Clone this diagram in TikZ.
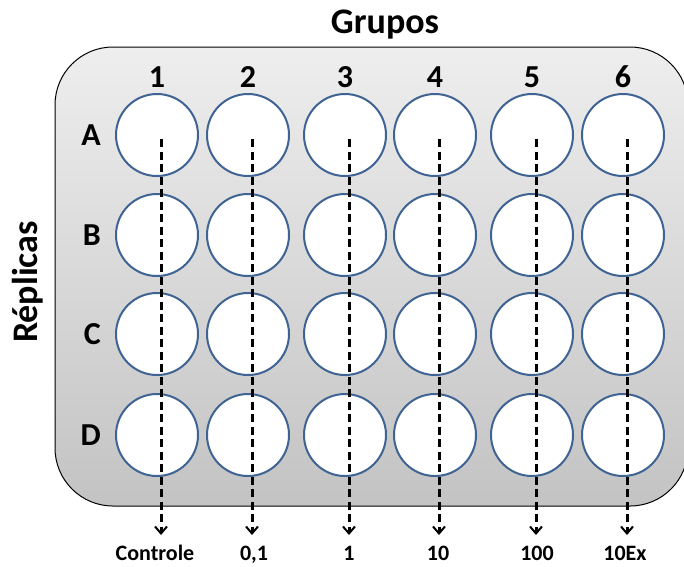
\documentclass[tikz,border=0pt]{standalone}
\usepackage{fontspec}
\setmainfont{Carlito}
\usetikzlibrary{arrows.meta,positioning}
\definecolor{wellBlue}{HTML}{3F6393}
\definecolor{plateTop}{HTML}{EEEEEE}
\definecolor{plateBottom}{HTML}{C3C3C3}
\tikzstyle{plate} = [draw=black, line width=1pt, rounded corners=58pt,
    top color=plateTop, bottom color=plateBottom]
\tikzstyle{well} = [circle, draw=wellBlue, line width=2pt, fill=white,
    minimum size=82pt, inner sep=0pt]
\tikzstyle{heading} = [font=\fontsize{36}{40}\selectfont\bfseries,
    inner sep=0pt, anchor=base]
\tikzstyle{marker} = [font=\fontsize{32}{36}\selectfont\bfseries, inner sep=0pt]
\tikzstyle{dose} = [font=\fontsize{22}{26}\selectfont\bfseries,
    inner sep=0pt, anchor=base]
\tikzstyle{flow} = [draw, line width=3pt, dash pattern=on 8pt off 4.5pt,
    shorten <=4pt, -{Straight Barb[length=7pt,width=12pt,line width=2pt]}]

\begin{document}
\begin{tikzpicture}[x=1pt, y=-1pt]
    \useasboundingbox (0,0) rectangle (684,566);
    \path[plate] (55,47) rectangle (688,506);

    \node[heading] (grupos) at (385,33) {Grupos};
    \node[heading, rotate=90] (replicas) at (37,282) {Réplicas};

    \node[well] (wellA1) at (157,135) {};
    \node[well] (wellA2) at (248,135) {};
    \node[well] (wellA3) at (345,135) {};
    \node[well] (wellA4) at (435,135) {};
    \node[well] (wellA5) at (532,135) {};
    \node[well] (wellA6) at (623,135) {};

    \node[well] (wellB1) at (157,235) {};
    \node[well] (wellB2) at (248,235) {};
    \node[well] (wellB3) at (345,235) {};
    \node[well] (wellB4) at (435,235) {};
    \node[well] (wellB5) at (532,235) {};
    \node[well] (wellB6) at (623,235) {};

    \node[well] (wellC1) at (157,334) {};
    \node[well] (wellC2) at (248,334) {};
    \node[well] (wellC3) at (345,334) {};
    \node[well] (wellC4) at (435,334) {};
    \node[well] (wellC5) at (532,334) {};
    \node[well] (wellC6) at (623,334) {};

    \node[well] (wellD1) at (157,435) {};
    \node[well] (wellD2) at (248,435) {};
    \node[well] (wellD3) at (345,435) {};
    \node[well] (wellD4) at (435,435) {};
    \node[well] (wellD5) at (532,435) {};
    \node[well] (wellD6) at (623,435) {};

    \node[marker, above=5pt of wellA1] (group1) {1};
    \node[marker, above=5pt of wellA2] (group2) {2};
    \node[marker, above=5pt of wellA3] (group3) {3};
    \node[marker, above=5pt of wellA4] (group4) {4};
    \node[marker, above=5pt of wellA5] (group5) {5};
    \node[marker, above=5pt of wellA6] (group6) {6};

    \node[marker, left=14pt of wellA1] (repA) {A};
    \node[marker, left=14pt of wellB1] (repB) {B};
    \node[marker, left=14pt of wellC1] (repC) {C};
    \node[marker, left=14pt of wellD1] (repD) {D};

    \coordinate (tip1) at (161,535);
    \coordinate (tip2) at (252,535);
    \coordinate (tip3) at (349,535);
    \coordinate (tip4) at (439,535);
    \coordinate (tip5) at (536,535);
    \coordinate (tip6) at (627,535);

    \node[dose] (doseControle) at (155,560) {Controle};
    \node[dose] (dose01) at (254,560) {0,1};
    \node[dose] (dose1) at (349,560) {1};
    \node[dose] (dose10) at (438,560) {10};
    \node[dose] (dose100) at (537,560) {100};
    \node[dose] (doseEx) at (625,560) {10Ex};

    \path[flow] (tip1 |- wellA1.center) -- (tip1);
    \path[flow] (tip2 |- wellA2.center) -- (tip2);
    \path[flow] (tip3 |- wellA3.center) -- (tip3);
    \path[flow] (tip4 |- wellA4.center) -- (tip4);
    \path[flow] (tip5 |- wellA5.center) -- (tip5);
    \path[flow] (tip6 |- wellA6.center) -- (tip6);
\end{tikzpicture}
\end{document}
